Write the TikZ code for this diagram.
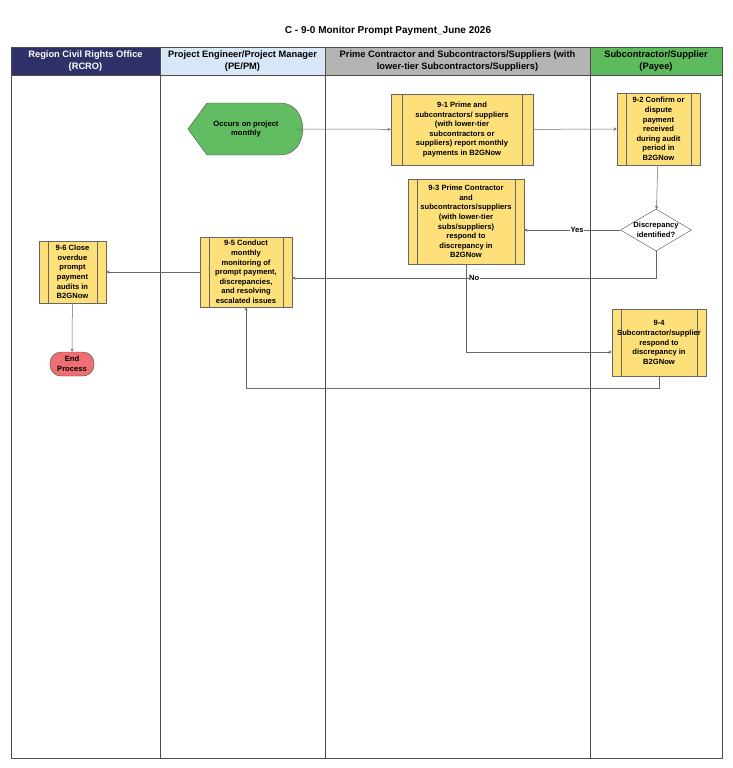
\documentclass[tikz,border=0pt]{standalone}
\usepackage{fontspec}
\setmainfont{Liberation Sans}
\usetikzlibrary{shapes.geometric,arrows,positioning,calc}
\definecolor{rcro}{HTML}{2F3168}
\definecolor{pepm}{HTML}{D7E7F7}
\definecolor{prime}{HTML}{B4B4B4}
\definecolor{payee}{HTML}{5DBB5D}
\definecolor{procfill}{HTML}{FDE07A}
\definecolor{startfill}{HTML}{62BD62}
\definecolor{endfill}{HTML}{EE6E72}
\tikzset{
  lanehead/.style={draw=black!70, minimum height=28pt, inner sep=1pt, align=center, font=\fontsize{9.3}{11.5}\selectfont\bfseries},
  txt/.style={font=\fontsize{7.6}{9.6}\selectfont\bfseries, align=center},
  proc/.style={draw=black!60, fill=procfill, txt, inner sep=0pt,
    path picture={\draw[black!60] ([xshift=#1]path picture bounding box.north west) -- ([xshift=#1]path picture bounding box.south west);
      \draw[black!60] ([xshift=-#1]path picture bounding box.north east) -- ([xshift=-#1]path picture bounding box.south east);}},
  proc/.default=9pt,
  decision/.style={diamond, draw=black!70, fill=white, aspect=1.7, inner sep=0pt, txt},
  flow/.style={->, >=stealth, draw=black!60, line width=0.5pt},
  lbl/.style={fill=white, inner sep=0.5pt, font=\fontsize{7.6}{9}\selectfont\bfseries}
}
\begin{document}
\begin{tikzpicture}[x=1pt,y=-1pt]
    \useasboundingbox (0,0) rectangle (733,768);
    % Title
    \node[font=\fontsize{10}{12}\selectfont\bfseries] (title) at (388,31) {C - 9-0 Monitor Prompt Payment\_June 2026};

    % Lanes
    \draw[black!70] (11,47) rectangle (722,758);
    \foreach \lx in {160,325,590} \draw[black!70] (\lx,47) -- (\lx,758);
    \node[lanehead, fill=rcro, text=white, minimum width=149pt] (h1) at (85.5,61) {Region Civil Rights Office\\(RCRO)};
    \node[lanehead, fill=pepm, minimum width=165pt] (h2) at (242.5,61) {Project Engineer/Project Manager\\(PE/PM)};
    \node[lanehead, fill=prime, minimum width=265pt] (h3) at (457.5,61) {Prime Contractor and Subcontractors/Suppliers (with\\lower-tier Subcontractors/Suppliers)};
    \node[lanehead, fill=payee, minimum width=132pt] (h4) at (656,61) {Subcontractor/Supplier\\(Payee)};

    % Start shape
    \draw[black!70, fill=startfill] (188,129) -- (207,103) -- (280,103) to[out=0,in=0,looseness=1.5] (280,155) -- (207,155) -- cycle;
    \node[txt] (start) at (246,129) {Occurs on project\\monthly};
    \coordinate (startE) at (297,129);

    % Steps
    \node[proc=11pt, minimum width=142pt, minimum height=71pt] (s1) at (462,129.5) {9-1 Prime and\\subcontractors/ suppliers\\(with lower-tier\\subcontractors or\\suppliers) report monthly\\payments in B2GNow};
    \node[proc, minimum width=83pt, minimum height=72pt] (s2) at (658.5,129) {9-2 Confirm or\\dispute\\payment\\received\\during audit\\period in\\B2GNow};
    \node[decision, minimum width=70pt, minimum height=42pt] (d1) at (656,230) {Discrepancy\\identified?};
    \node[proc, minimum width=116pt, minimum height=85pt] (s3) at (466,221.5) {9-3 Prime Contractor\\and\\subcontractors/suppliers\\(with lower-tier\\subs/suppliers)\\respond to\\discrepancy in\\B2GNow};
    \node[proc, minimum width=94pt, minimum height=67pt] (s4) at (659,342.5) {9-4\\Subcontractor/supplier\\respond to\\discrepancy in\\B2GNow};
    \node[proc, minimum width=92pt, minimum height=70pt] (s5) at (246,272) {9-5 Conduct\\monthly\\monitoring of\\prompt payment,\\discrepancies,\\and resolving\\escalated issues};
    \node[proc, minimum width=67pt, minimum height=62pt] (s6) at (72.5,272) {9-6 Close\\overdue\\prompt\\payment\\audits in\\B2GNow};
    \node[draw=black!70, fill=endfill, rounded corners=11pt, minimum width=44pt, minimum height=24pt, inner sep=0pt, txt] (end) at (72,364) {End\\Process};

    % Connectors
    \draw[flow] (startE) -- (s1);
    \draw[flow] (s1) -- (s2);
    \draw[flow] (s2) -- (d1);
    \draw[flow] (d1) -- node[lbl, pos=0.45] {Yes} (s3.east |- d1);
    \draw[flow] (d1.south) |- node[lbl, pos=0.75] {No} ($(s5.east)+(0,6)$);
    \draw[flow] (s3.south) |- ($(s4.west)+(0,9.5)$);
    \draw[flow] (s4.south) -- ++(0,12) -| (s5.south);
    \draw[flow] (s5) -- (s6);
    \draw[flow] (s6) -- (end);
\end{tikzpicture}
\end{document}
